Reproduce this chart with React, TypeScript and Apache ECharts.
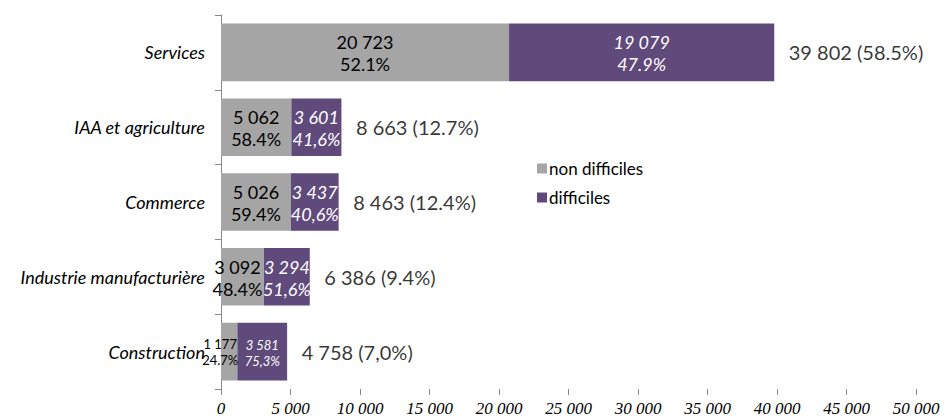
import React, { useEffect, useRef } from "react";
import * as echarts from "echarts";

const categories = ["Services", "IAA et agriculture", "Commerce", "Industrie manufacturière", "Construction"];
const nonDifficiles = [20723, 5062, 5026, 3092, 1177];
const difficiles = [19079, 3601, 3437, 3294, 3581];
const nonDiffPct = ["52.1%", "58.4%", "59.4%", "48.4%", "24.7%"];
const diffPct = ["47.9%", "41,6%", "40,6%", "51,6%", "75,3%"];
const totalShare = ["58.5%", "12.7%", "12.4%", "9.4%", "7,0%"];

const FONT = "Lato";
const fmt = (n: number) => String(n).replace(/\B(?=(\d{3})+(?!\d))/g, " ");

export default function App() {
  const ref = useRef<HTMLDivElement>(null);
  useEffect(() => {
    if (!ref.current) return;
    const chart = echarts.init(ref.current, null, { renderer: "svg" });
    const totals = nonDifficiles.map((v, i) => v + difficiles[i]);
    const small = (i: number) => i === categories.length - 1;
    const grayOffset = (i: number) => (i === 4 ? [-9, 0] : i === 3 ? [-5, 1] : [0, 1]);
    chart.setOption({
      animation: false,
      textStyle: { fontFamily: FONT },
      grid: { left: 221, right: 30, top: 15, bottom: 30 },
      legend: {
        orient: "vertical",
        left: 532,
        top: 155,
        itemWidth: 10,
        itemHeight: 10,
        itemGap: 12,
        icon: "rect",
        data: ["non difficiles", "difficiles"],
        textStyle: { fontFamily: FONT, fontSize: 17, color: "#000", padding: [0, 0, 0, -3] },
      },
      xAxis: {
        type: "value",
        min: 0,
        max: 50000,
        interval: 5000,
        splitLine: { show: false },
        axisLine: { show: false },
        axisTick: { show: true, length: 6, lineStyle: { color: "#888" } },
        axisLabel: {
          fontFamily: "Liberation Sans Narrow",
          fontStyle: "italic",
          fontSize: 17,
          color: "#000",
          margin: 11,
          formatter: (v: number) => fmt(v),
        },
      },
      yAxis: {
        type: "category",
        inverse: true,
        data: categories,
        axisLine: { show: true, lineStyle: { color: "#888" } },
        axisTick: { show: true, length: 6, lineStyle: { color: "#888" } },
        axisLabel: { fontFamily: FONT, fontStyle: "italic", fontSize: 18, color: "#000", margin: 16 },
      },
      series: [
        {
          name: "non difficiles",
          type: "bar",
          stack: "a",
          barWidth: "77%",
          itemStyle: { color: "#A5A5A5" },
          data: nonDifficiles.map((v, i) => ({
            value: v,
            label: {
              show: true,
              position: "inside",
              color: "#000",
              fontFamily: FONT,
              fontSize: small(i) ? 13 : 18,
              lineHeight: small(i) ? 16 : 22,
              offset: grayOffset(i),
              formatter: () => fmt(v) + "\n" + nonDiffPct[i],
            },
          })),
        },
        {
          name: "difficiles",
          type: "bar",
          stack: "a",
          itemStyle: { color: "#604A7B" },
          data: difficiles.map((v, i) => ({
            value: v,
            label: {
              show: true,
              position: "inside",
              color: "#fff",
              fontFamily: FONT,
              fontStyle: "italic",
              fontSize: small(i) ? 13 : 18,
              lineHeight: small(i) ? 16 : 22,
              offset: [0, 1],
              formatter: () => fmt(v) + "\n" + diffPct[i],
            },
          })),
        },
        {
          name: "total",
          type: "scatter",
          symbolSize: 1,
          itemStyle: { color: "transparent" },
          data: totals.map((t, i) => [t, categories[i]]),
          label: {
            show: true,
            position: "right",
            distance: 14,
            color: "#000",
            fontFamily: FONT,
            fontSize: 20,
            formatter: (p: any) => fmt(totals[p.dataIndex]) + " (" + totalShare[p.dataIndex] + ")",
          },
        },
      ],
    });
    return () => chart.dispose();
  }, []);
  return <div ref={ref} style={{ position: "absolute", left: 0, top: 0, width: 946, height: 419 }} />;
}
